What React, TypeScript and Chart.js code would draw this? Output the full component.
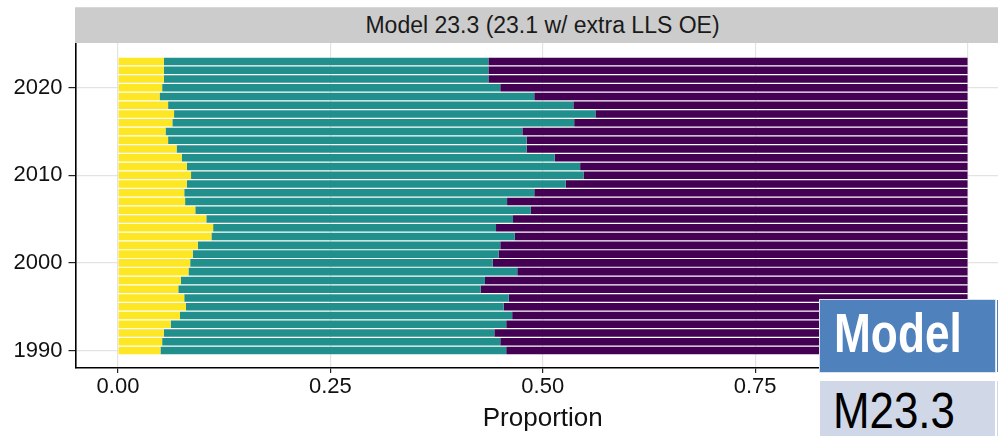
import React, { useEffect, useLayoutEffect, useRef, useState } from 'react';
import { Chart, registerables } from 'chart.js';

Chart.register(...registerables);

// ---------- data ----------
const years = [
  1990, 1991, 1992, 1993, 1994, 1995, 1996, 1997, 1998, 1999,
  2000, 2001, 2002, 2003, 2004, 2005, 2006, 2007, 2008, 2009,
  2010, 2011, 2012, 2013, 2014, 2015, 2016, 2017, 2018, 2019,
  2020, 2021, 2022, 2023,
];
const yellowShare = [
  0.050, 0.052, 0.054, 0.062, 0.073, 0.080, 0.078, 0.071, 0.074, 0.083,
  0.085, 0.088, 0.094, 0.110, 0.112, 0.104, 0.091, 0.079, 0.078, 0.081,
  0.086, 0.081, 0.075, 0.069, 0.059, 0.056, 0.064, 0.066, 0.059, 0.049,
  0.052, 0.054, 0.054, 0.054,
];
const tealShare = [
  0.407, 0.398, 0.389, 0.395, 0.391, 0.374, 0.382, 0.356, 0.358, 0.387,
  0.356, 0.360, 0.356, 0.357, 0.333, 0.361, 0.395, 0.379, 0.412, 0.446,
  0.462, 0.463, 0.439, 0.412, 0.422, 0.420, 0.473, 0.496, 0.477, 0.441,
  0.398, 0.382, 0.382, 0.382,
];
const purpleShare = [
  0.543, 0.550, 0.557, 0.543, 0.536, 0.546, 0.540, 0.573, 0.568, 0.530,
  0.559, 0.552, 0.550, 0.533, 0.555, 0.535, 0.514, 0.542, 0.510, 0.473,
  0.452, 0.456, 0.486, 0.519, 0.519, 0.524, 0.463, 0.438, 0.464, 0.510,
  0.550, 0.564, 0.564, 0.564,
];
const seriesNames = ['Group 1', 'Group 2', 'Group 3'];
const seriesColors = ['#FDE725', '#21908C', '#440154'];
const xTickValues = [0, 0.25, 0.5, 0.75, 1];
const yTickValues = [1990, 2000, 2010, 2020];
const stripTitle = 'Model 23.3 (23.1 w/ extra LLS OE)';
const xAxisTitle = 'Proportion';
const badgeTop = 'Model';
const badgeBottom = 'M23.3';

const FONT = "'Liberation Sans', Arial, Helvetica, sans-serif";
const NARROW = "'Liberation Sans Narrow', 'Arial Narrow', 'Liberation Sans', Arial, sans-serif";

function FitText(props: { text: string; width: number; style: React.CSSProperties }) {
  const ref = useRef<HTMLSpanElement>(null);
  const [scale, setScale] = useState(1);
  useLayoutEffect(() => {
    if (ref.current) {
      const w = ref.current.offsetWidth;
      if (w > 0) setScale(props.width / w);
    }
  }, [props.text, props.width]);
  return (
    <span
      ref={ref}
      style={{
        ...props.style,
        display: 'inline-block',
        whiteSpace: 'nowrap',
        transform: `scaleX(${scale})`,
        transformOrigin: 'left top',
      }}
    >
      {props.text}
    </span>
  );
}

export default function App() {
  const canvasRef = useRef<HTMLCanvasElement>(null);

  useEffect(() => {
    document.body.style.margin = '0';
    const canvas = canvasRef.current;
    if (!canvas) return;
    const shares = [yellowShare, tealShare, purpleShare];
    const chart = new Chart(canvas, {
      type: 'bar',
      data: {
        datasets: shares.map((arr, k) => ({
          label: seriesNames[k],
          data: years.map((yr, i) => ({ x: arr[i], y: yr })),
          backgroundColor: seriesColors[k],
          borderWidth: 0,
          barPercentage: 0.86,
          categoryPercentage: 1,
        })),
      },
      options: {
        indexAxis: 'y',
        animation: false,
        responsive: false,
        events: [],
        layout: { padding: { top: 43, left: 0, right: 0, bottom: 0 } },
        plugins: { legend: { display: false }, tooltip: { enabled: false } },
        scales: {
          x: {
            type: 'linear',
            stacked: true,
            min: -0.05,
            max: 1.05,
            afterBuildTicks: (s: any) => {
              s.ticks = xTickValues.map((v) => ({ value: v }));
            },
            afterFit: (s: any) => {
              s.height = 68;
            },
            grid: {
              color: '#e3e3e3',
              lineWidth: 1.2,
              tickColor: '#222',
              tickLength: 5,
              tickWidth: 1.2,
            },
            border: { display: true, color: '#000', width: 1.6 },
            ticks: {
              font: { family: FONT, size: 22 },
              color: '#111',
              padding: 1,
              maxRotation: 0,
              autoSkip: false,
              callback: (v: any) => Number(v).toFixed(2),
            },
            title: {
              display: true,
              text: xAxisTitle,
              font: { family: FONT, size: 26 },
              color: '#111',
              padding: { top: 0, bottom: 1.4 },
            },
          },
          y: {
            type: 'linear',
            stacked: true,
            offset: false,
            min: 1988,
            max: 2025.1,
            afterBuildTicks: (s: any) => {
              s.ticks = yTickValues.map((v) => ({ value: v }));
            },
            afterFit: (s: any) => {
              s.width = 75.5;
            },
            grid: {
              offset: false,
              color: '#e3e3e3',
              lineWidth: 1.2,
              tickColor: '#222',
              tickLength: 7,
              tickWidth: 1.2,
            },
            border: { display: true, color: '#000', width: 1.6 },
            ticks: {
              font: { family: FONT, size: 22 },
              color: '#111',
              padding: 6,
              autoSkip: false,
              callback: (v: any) => String(v),
            },
          },
        },
      },
    } as any);
    return () => chart.destroy();
  }, []);

  return (
    <div
      style={{
        position: 'fixed',
        left: 0,
        top: 0,
        width: 998,
        height: 436,
        overflow: 'hidden',
        background: '#fff',
      }}
    >
      <canvas ref={canvasRef} width={1010} height={436} style={{ display: 'block', position: 'absolute', left: 0, top: 0 }} />
      <div
        style={{
          position: 'absolute',
          left: 75,
          top: 7,
          width: 935,
          height: 36,
          background: '#cccccc',
          borderTop: '1px solid #d8d8d8',
          boxSizing: 'border-box',
          color: '#1a1a1a',
          fontFamily: FONT,
          fontSize: 23,
          lineHeight: '34px',
          textAlign: 'center',
          whiteSpace: 'nowrap',
        }}
      >
        {stripTitle}
      </div>
      <div style={{ position: 'absolute', left: 819, top: 299, width: 190, height: 140, background: '#ffffff' }} />
      <div
        style={{
          position: 'absolute',
          left: 819,
          top: 299,
          width: 177,
          height: 74,
          boxSizing: 'border-box',
          background: '#4F81BD',
          border: '1px solid #dbe2ee',
        }}
      />
      <div style={{ position: 'absolute', left: 997, top: 300, width: 6, height: 72, background: '#4F81BD' }} />
      <div style={{ position: 'absolute', left: 834, top: 304.7, lineHeight: 1 }}>
        <FitText
          text={badgeTop}
          width={128}
          style={{ fontFamily: NARROW, fontWeight: 'bold', fontSize: 56, lineHeight: 1, color: '#ffffff' }}
        />
      </div>
      <div
        style={{
          position: 'absolute',
          left: 820,
          top: 381,
          width: 175,
          height: 60,
          background: '#D0D8E8',
        }}
      />
      <div style={{ position: 'absolute', left: 997, top: 381, width: 6, height: 60, background: '#D0D8E8' }} />
      <div style={{ position: 'absolute', left: 833, top: 385.5, lineHeight: 1 }}>
        <FitText
          text={badgeBottom}
          width={122}
          style={{ fontFamily: NARROW, fontSize: 50, lineHeight: 1, color: '#000000' }}
        />
      </div>
    </div>
  );
}
